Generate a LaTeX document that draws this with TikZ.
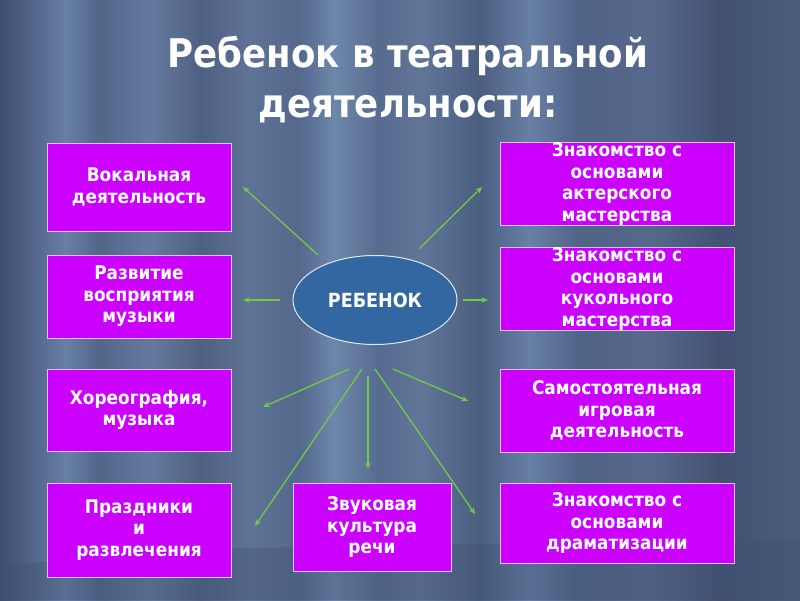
\documentclass[tikz,border=0pt]{standalone}
\usepackage{fontspec}
\setmainfont{DejaVu Sans}[FakeStretch=0.9]
\usepackage{tikz}
\usetikzlibrary{shapes.geometric, arrows.meta}
\definecolor{StageDark}{RGB}{62,80,112}
\definecolor{BoxMagenta}{RGB}{204,0,255}
\definecolor{BoxEdge}{RGB}{228,190,240}
\definecolor{ChildBlue}{RGB}{51,103,162}
\definecolor{ArrowGreen}{RGB}{112,202,72}
\pgfdeclarehorizontalshading{curtain}{100bp}{%
  rgb(0bp)=(0.24,0.31,0.44); rgb(25bp)=(0.24,0.31,0.44);
  rgb(26.9bp)=(0.31,0.39,0.53); rgb(29.1bp)=(0.41,0.50,0.65);
  rgb(31.2bp)=(0.32,0.40,0.54); rgb(34.4bp)=(0.39,0.48,0.62);
  rgb(37.5bp)=(0.31,0.38,0.51); rgb(40.6bp)=(0.37,0.45,0.59);
  rgb(43.7bp)=(0.33,0.41,0.55); rgb(45.9bp)=(0.43,0.53,0.67);
  rgb(48.7bp)=(0.34,0.42,0.56); rgb(51.2bp)=(0.38,0.46,0.60);
  rgb(55bp)=(0.29,0.37,0.50); rgb(58.1bp)=(0.41,0.50,0.65);
  rgb(61.2bp)=(0.31,0.39,0.53); rgb(65.6bp)=(0.34,0.41,0.55);
  rgb(70bp)=(0.26,0.32,0.45); rgb(75bp)=(0.29,0.36,0.49);
  rgb(100bp)=(0.29,0.36,0.49)}

\begin{document}
\begin{tikzpicture}[x=1pt, y=-1pt,
      box/.style={rectangle, fill=BoxMagenta, draw=BoxEdge, line width=1pt,
                  text=white, inner sep=0pt, align=center,
                  font=\fontsize{18.8}{21.5}\selectfont\bfseries},
      arr/.style={-{Stealth[length=6.5pt, width=5.5pt]}, line width=1.3pt, ArrowGreen}
    ]
    % Curtain background
    \shade[shading=curtain] (0,0) rectangle (800,600);
    \useasboundingbox (0,0) rectangle (800,600);
    \fill[StageDark, opacity=0.35] (0,600) -- (0,566) -- (170,550) -- (300,547)
          -- (430,544) -- (600,543) -- (800,540) -- (800,600) -- cycle;

    % Title
    \node[text=white, align=center, inner sep=0pt,
          font=\fontsize{39.5}{50}\selectfont\bfseries]
          (title) at (408,80) {Ребенок в театральной\\деятельности:};

    % Child in the middle
    \node[ellipse, fill=ChildBlue, draw=white!85!ChildBlue, line width=1pt,
          minimum width=164, minimum height=89, inner sep=0pt, text=white,
          font=\fontsize{19.5}{22}\selectfont\bfseries]
          (child) at (375,300) {РЕБЕНОК};

    % Left column
    \foreach \i/\y/\h/\t in {1/187/88/{Вокальная\\деятельность},
                             2/296.5/83/{Развитие\\восприятия\\музыки},
                             3/410/82/{Хореография,\\музыка},
                             4/530/94/{Праздники\\и\\развлечения}} {
      \node[box, minimum width=184, minimum height=\h] (left\i) at (139,\y) {\t};
    }

    % Right column
    \foreach \i/\y/\h/\t in {1/184/82/{Знакомство с\\основами\\актерского\\мастерства},
                             2/289/80/{Знакомство с\\основами\\кукольного\\мастерства},
                             3/410.5/83/{Самостоятельная\\игровая\\деятельность},
                             4/523/80/{Знакомство с\\основами\\драматизации}} {
      \node[box, minimum width=234, minimum height=\h] (right\i) at (617,\y) {\t};
    }

    % Bottom box
    \node[box, minimum width=158, minimum height=88]
          (speech) at (372,527) {Звуковая\\культура\\речи};

    % Arrows from the child
    \foreach \i/\sx/\sy/\ex/\ey in {1/318/255/243/187, 2/419/249/482/187,
                                    3/280/300/243/300, 4/463/300/488/300,
                                    5/349/369/263/407, 6/362/369/255/526,
                                    7/368/376/368/469, 8/375/369/475/514,
                                    9/393/369/468/401} {
      \coordinate (from\i) at (\sx,\sy);
      \coordinate (to\i) at (\ex,\ey);
      \draw[arr] (from\i) -- (to\i);
    }
  \end{tikzpicture}
\end{document}
